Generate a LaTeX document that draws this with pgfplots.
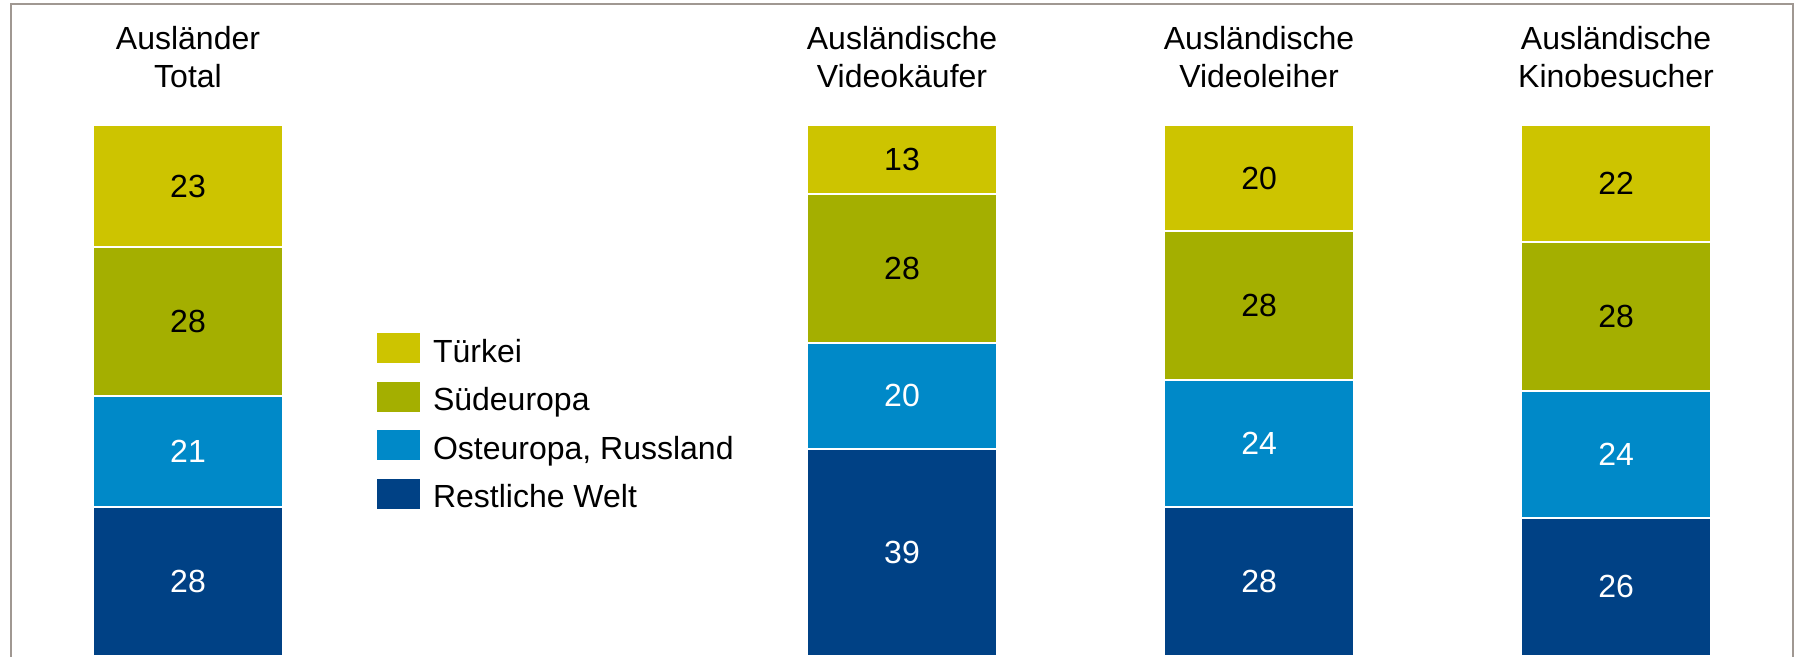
\documentclass[border=0pt]{standalone}
\usepackage{pgfplots}
\pgfplotsset{compat=1.18}
\usepackage{pgfplotstable}
\usepackage{fontspec}
\setmainfont{Liberation Sans}
\definecolor{tuerkei}{RGB}{205,196,0}
\definecolor{sued}{RGB}{164,175,0}
\definecolor{ost}{RGB}{0,137,200}
\definecolor{rest}{RGB}{0,65,133}
\definecolor{framegray}{RGB}{160,152,146}

\pgfplotstableread{
x t s o r
0 23 28 21 28
2 13 28 20 39
3 20 28 24 28
4 22 28 24 26
}\data

\pgfplotsset{base/.style={width=900.5pt,height=328pt,scale only axis,
  xmin=-0.5266,xmax=4.518,ymin=0,ymax=123.54,
  axis line style={draw=none},major tick length=0pt,ytick=\empty,clip=false}}

\begin{document}
\begin{tikzpicture}
\begin{axis}[base,name=ax,ybar stacked,bar width=95pt,
  xtick={0,2,3,4},
  xticklabels={{Ausländer\\Total},{Ausländische\\Videokäufer},{Ausländische\\Videoleiher},{Ausländische\\Kinobesucher}},
  xticklabel pos=upper,
  xticklabel style={anchor=north,yshift=-12.8pt,align=center,inner sep=0pt,font=\fontsize{16}{19.3}\selectfont},
  reverse legend,
  legend image code/.code={\fill[#1,draw=none] (0pt,-7.5pt) rectangle (21.5pt,7.5pt);},
  legend cell align=left,
  legend style={at={(0.20933,0.49238)},anchor=north west,draw=none,fill=none,
    inner sep=0pt,outer sep=0pt,row sep=9.33pt,
    nodes={inner sep=0pt,text height=14pt,text depth=0pt},
    font=\fontsize{16}{19}\selectfont,
    /tikz/every odd column/.append style={column sep=6.5pt}},
]
\addplot[fill=rest,draw=white,line width=1pt] table[x=x,y=r]{\data};
\addlegendentry{Restliche Welt}
\addplot[fill=ost,draw=white,line width=1pt] table[x=x,y=o]{\data};
\addlegendentry{Osteuropa, Russland}
\addplot[fill=sued,draw=white,line width=1pt] table[x=x,y=s]{\data};
\addlegendentry{Südeuropa}
\addplot[fill=tuerkei,draw=white,line width=1pt] table[x=x,y=t]{\data};
\addlegendentry{Türkei}
\end{axis}
\begin{axis}[base,xtick=\empty,/pgf/number format/assume math mode=true,
  nodes near coords style={anchor=center,inner sep=0pt,font=\fontsize{16}{19}\selectfont}]
\addplot[draw=none,mark=none,nodes near coords,point meta=explicit,nodes near coords style={text=white}]
  table[x=x,y expr=\thisrow{r}/2,meta=r]{\data};
\addplot[draw=none,mark=none,nodes near coords,point meta=explicit,nodes near coords style={text=white}]
  table[x=x,y expr=\thisrow{r}+\thisrow{o}/2,meta=o]{\data};
\addplot[draw=none,mark=none,nodes near coords,point meta=explicit,nodes near coords style={text=black}]
  table[x=x,y expr=\thisrow{r}+\thisrow{o}+\thisrow{s}/2,meta=s]{\data};
\addplot[draw=none,mark=none,nodes near coords,point meta=explicit,nodes near coords style={text=black}]
  table[x=x,y expr=\thisrow{r}+\thisrow{o}+\thisrow{s}+\thisrow{t}/2,meta=t]{\data};
\end{axis}
\draw[framegray,line width=1pt] ([xshift=5.5pt,yshift=-2pt]ax.south west) -- ([xshift=5.5pt,yshift=-2pt]ax.north west)
  -- ([xshift=-4.25pt,yshift=-2pt]ax.north east) -- ([xshift=-4.25pt,yshift=-2pt]ax.south east);
\pgfresetboundingbox
\useasboundingbox (ax.south west) rectangle (ax.north east);
\end{tikzpicture}
\end{document}
